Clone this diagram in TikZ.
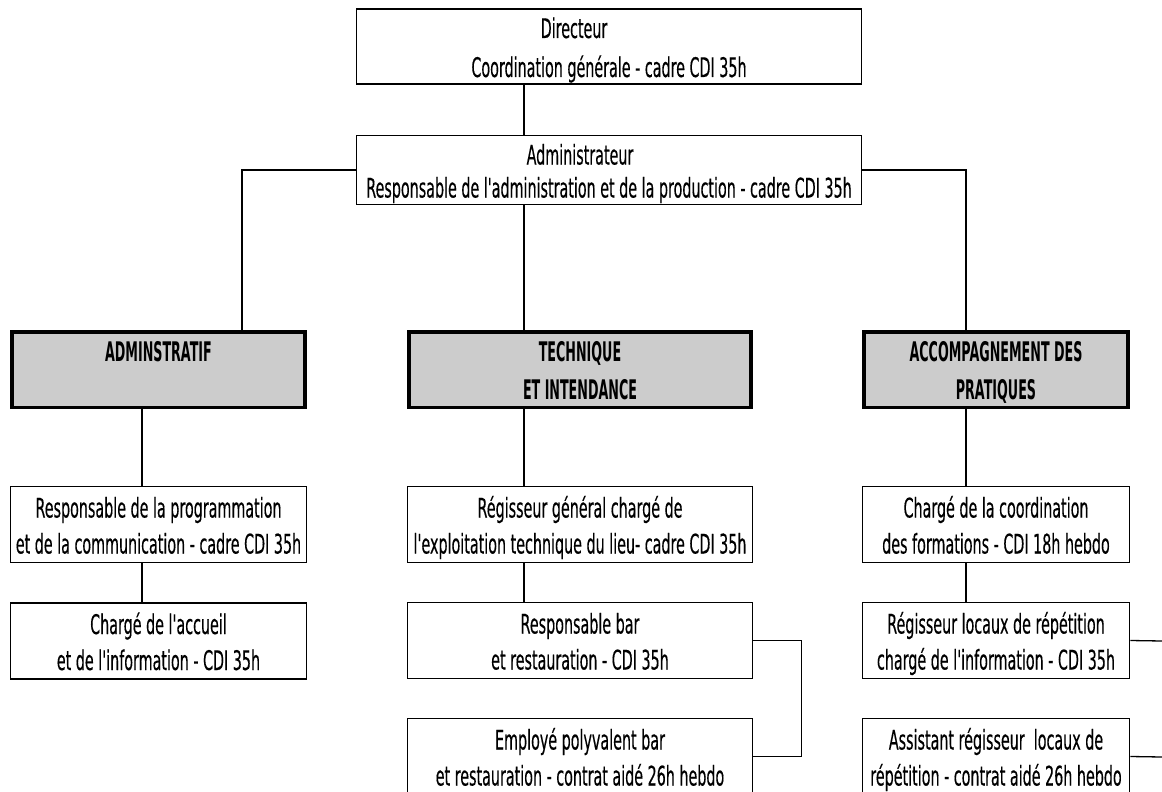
\documentclass[tikz,border=0pt]{standalone}
\usepackage{fontspec}
\setmainfont{DejaVu Sans}[FakeStretch=0.53,FakeBold=0.3,Ligatures=TeXOff]
\newfontfamily\headfont{DejaVu Sans}[FakeStretch=0.47,Ligatures=TeXOff]
\definecolor{headgray}{RGB}{204,204,204}
\tikzset{
  box/.style={draw, line width=1.5pt, inner sep=0pt, minimum height=76pt, align=center, font=\fontsize{27}{36}\selectfont},
  head/.style={draw, line width=3.5pt, fill=headgray, inner sep=0pt, minimum height=75.5pt, align=center, font=\headfont\bfseries\fontsize{27}{38}\selectfont},
  link/.style={line width=1.3pt}
}
\newcommand\tx[2]{\rule{0pt}{29pt}#1\\#2\rule[-7pt]{0pt}{7pt}}
\begin{document}
\begin{tikzpicture}[x=1pt,y=-1pt]
\useasboundingbox (0,0) rectangle (1162,792);
% top
\node[box, minimum width=505pt, minimum height=70pt, font=\fontsize{27}{39}\selectfont] (dir) at (609,46.5) {\tx{Directeur\hspace*{70pt}}{Coordination générale - cadre CDI 35h}};
\node[box, minimum width=505pt, minimum height=69pt, font=\fontsize{27}{33}\selectfont] (adm) at (609,170) {\tx{Administrateur\hspace*{58pt}}{Responsable de l'administration et de la production - cadre CDI 35h}};
% heads
\node[head, minimum width=293pt] (g1) at (158.5,369.5) {\tx{ADMINSTRATIF}{\mbox{}}};
\node[head, minimum width=342pt] (g2) at (580,369.5) {\tx{TECHNIQUE}{ET INTENDANCE}};
\node[head, minimum width=264pt] (g3) at (996,369.5) {\tx{ACCOMPAGNEMENT DES}{PRATIQUES}};
% left column
\node[box, minimum width=296pt] (l1) at (158.5,524.5) {\tx{Responsable de la programmation}{et de la communication - cadre CDI 35h}};
\node[box, minimum width=296pt] (l2) at (158.5,641) {\tx{Chargé de l'accueil}{et de l'information - CDI 35h}};
% middle column
\node[box, minimum width=345pt] (m1) at (580,524.5) {\tx{Régisseur général chargé de}{l'exploitation technique du lieu- cadre CDI 35h}};
\node[box, minimum width=345pt] (m2) at (580,640.5) {\tx{Responsable bar}{et restauration - CDI 35h}};
\node[box, minimum width=345pt] (m3) at (580,756.5) {\tx{Employé polyvalent bar}{et restauration - contrat aidé 26h hebdo}};
% right column
\node[box, minimum width=267pt] (r1) at (996,524.5) {\tx{Chargé de la coordination}{des formations - CDI 18h hebdo}};
\node[box, minimum width=267pt] (r2) at (996,640.5) {\tx{Régisseur locaux de répétition}{chargé de l'information - CDI 35h}};
\node[box, minimum width=267pt] (r3) at (996,756.5) {\tx{Assistant régisseur~ locaux de}{répétition - contrat aidé 26h hebdo}};
% guide coordinates
\coordinate (cx) at (524,0);
\coordinate (lx) at (242,0);
\coordinate (lx2) at (142,0);
\coordinate (rx) at (966,0);
\coordinate (e2) at (1162,641);
\coordinate (e3) at (1162,757);
% connectors
\draw[link] (dir.south -| cx) -- (adm.north -| cx);
\draw[link] (adm.south -| cx) -- (g2.north -| cx);
\draw[link] (g2.south -| cx) -- (m1.north -| cx);
\draw[link] (m1.south -| cx) -- (m2.north -| cx);
\draw[link] (adm.west) -| (g1.north -| lx);
\draw[link] (g1.south -| lx2) -- (l1.north -| lx2);
\draw[link] (l1.south -| lx2) -- (l2.north -| lx2);
\draw[link] (adm.east) -| (g3.north -| rx);
\draw[link] (g3.south -| rx) -- (r1.north -| rx);
\draw[link] (r1.south -| rx) -- (r2.north -| rx);
\draw[link] (m2.east) -- ++(48,0) |- (m3.east);
\draw[link] (r2.east) -- (e2);
\draw[link] (r3.east) -- (e3);
\end{tikzpicture}
\end{document}
